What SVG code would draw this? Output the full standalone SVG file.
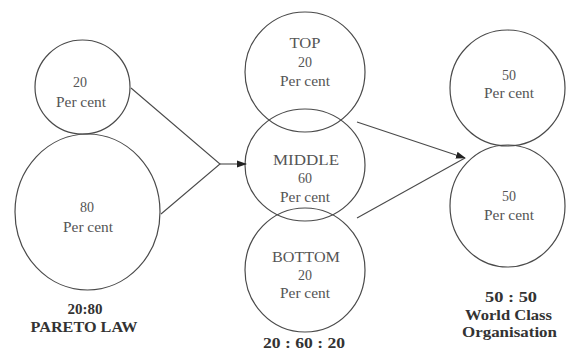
<svg xmlns="http://www.w3.org/2000/svg" width="572" height="353" viewBox="0 0 572 353">
  <style>
    .c { fill: none; stroke: #4a4a4a; stroke-width: 1.2; }
    .t { font-family: "Liberation Serif", "Times New Roman", "DejaVu Serif", serif; font-size: 14px; fill: #555; text-anchor: middle; }
    .b { font-family: "Liberation Serif", "Times New Roman", "DejaVu Serif", serif; font-size: 14px; font-weight: bold; fill: #333; text-anchor: middle; }
    .l { fill: none; stroke: #4a4a4a; stroke-width: 1.1; }
  </style>
  <defs>
    <marker id="ah" markerWidth="10" markerHeight="8" refX="9" refY="4" orient="auto" markerUnits="userSpaceOnUse">
      <path d="M0,0.5 L10,4 L0,7.5 Z" fill="#222"/>
    </marker>
  </defs>
  <rect width="572" height="353" fill="#fff"/>

  <!-- Pareto 20:80 -->
  <g id="pareto-20">
    <ellipse class="c" cx="82.5" cy="87" rx="47.5" ry="47"/>
    <text class="t" x="80" y="87">20</text>
    <text class="t" x="81" y="107" textLength="50" lengthAdjust="spacingAndGlyphs">Per cent</text>
  </g>
  <g id="pareto-80">
    <ellipse class="c" cx="87.5" cy="212" rx="72.5" ry="78"/>
    <text class="t" x="87" y="212">80</text>
    <text class="t" x="88" y="232" textLength="50" lengthAdjust="spacingAndGlyphs">Per cent</text>
  </g>
  <g id="pareto-label">
    <text class="b" x="85" y="314" textLength="35" lengthAdjust="spacingAndGlyphs">20:80</text>
    <text class="b" x="84" y="332" textLength="107" lengthAdjust="spacingAndGlyphs">PARETO LAW</text>
  </g>

  <!-- 20:60:20 -->
  <g id="top">
    <ellipse class="c" cx="305" cy="72" rx="60" ry="60"/>
    <text class="t" x="305" y="48" textLength="31" lengthAdjust="spacingAndGlyphs">TOP</text>
    <text class="t" x="305" y="67">20</text>
    <text class="t" x="305" y="86" textLength="50" lengthAdjust="spacingAndGlyphs">Per cent</text>
  </g>
  <g id="middle">
    <ellipse class="c" cx="305" cy="165" rx="60" ry="56"/>
    <text class="t" x="306" y="165" textLength="66" lengthAdjust="spacingAndGlyphs">MIDDLE</text>
    <text class="t" x="305" y="183">60</text>
    <text class="t" x="305" y="202" textLength="50" lengthAdjust="spacingAndGlyphs">Per cent</text>
  </g>
  <g id="bottom">
    <ellipse class="c" cx="305" cy="270" rx="60" ry="62"/>
    <text class="t" x="306" y="262" textLength="68" lengthAdjust="spacingAndGlyphs">BOTTOM</text>
    <text class="t" x="305" y="280">20</text>
    <text class="t" x="305" y="298" textLength="50" lengthAdjust="spacingAndGlyphs">Per cent</text>
  </g>
  <g id="middle-label">
    <text class="b" x="304" y="348" textLength="82" lengthAdjust="spacingAndGlyphs">20 : 60 : 20</text>
  </g>

  <!-- 50:50 -->
  <g id="wc-top">
    <ellipse class="c" cx="507.5" cy="88" rx="57.5" ry="58"/>
    <text class="t" x="509" y="80">50</text>
    <text class="t" x="509" y="98" textLength="50" lengthAdjust="spacingAndGlyphs">Per cent</text>
  </g>
  <g id="wc-bottom">
    <ellipse class="c" cx="507.5" cy="206" rx="57.5" ry="61"/>
    <text class="t" x="509" y="201">50</text>
    <text class="t" x="509" y="220" textLength="50" lengthAdjust="spacingAndGlyphs">Per cent</text>
  </g>
  <g id="wc-label">
    <text class="b" x="511" y="302" textLength="52" lengthAdjust="spacingAndGlyphs">50 : 50</text>
    <text class="b" x="508.5" y="320" textLength="87" lengthAdjust="spacingAndGlyphs">World Class</text>
    <text class="b" x="509.5" y="337" textLength="95" lengthAdjust="spacingAndGlyphs">Organisation</text>
  </g>

  <!-- connectors -->
  <g id="connectors">
    <path class="l" d="M131,88 L220,164 L161,214"/>
    <line class="l" x1="220" y1="164" x2="246" y2="164" marker-end="url(#ah)"/>
    <line class="l" x1="357" y1="122" x2="465" y2="158" marker-end="url(#ah)"/>
    <line class="l" x1="357" y1="218" x2="465" y2="158"/>
  </g>
</svg>
